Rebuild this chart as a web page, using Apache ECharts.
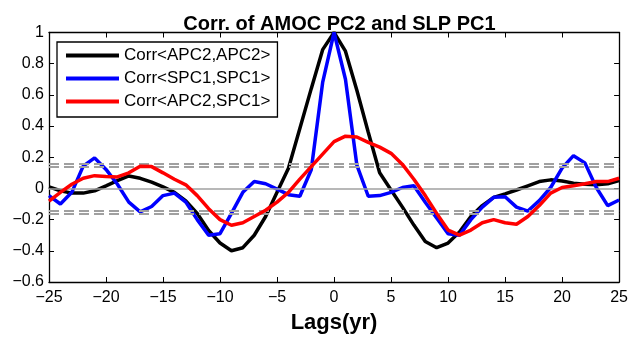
<!DOCTYPE html>
<html>
<head>
<meta charset="utf-8">
<script src="https://cdn.jsdelivr.net/npm/echarts@6/dist/echarts.min.js"></script>
<style>
html,body{margin:0;padding:0;background:#fff;}
#chart{width:631px;height:339px;}
</style>
</head>
<body>
<div id="chart"></div>
<script>
// Lags in years
var lags = [];
for (var k = -25; k <= 25; k++) lags.push(k);

var seriesNames = ['Corr<APC2,APC2>', 'Corr<SPC1,SPC1>', 'Corr<APC2,SPC1>'];

var apc2Auto = [
  0.01, -0.015, -0.03, -0.03, -0.015, 0.017, 0.05, 0.08, 0.065, 0.04,
  0.01, -0.025, -0.08, -0.16, -0.27, -0.35, -0.40, -0.38, -0.30, -0.18,
  -0.025, 0.13, 0.385, 0.64, 0.89, 1.0, 0.88, 0.63, 0.36, 0.10,
  -0.01, -0.12, -0.235, -0.34, -0.38, -0.35, -0.28, -0.18, -0.11, -0.057,
  -0.035, -0.01, 0.017, 0.044, 0.055, 0.048, 0.034, 0.027, 0.023, 0.03,
  0.05
];
var spc1Auto = [
  -0.046, -0.1, -0.025, 0.143, 0.196, 0.122, 0.027, -0.088, -0.15, -0.116,
  -0.046, -0.03, -0.088, -0.2, -0.3, -0.29, -0.16, -0.025, 0.044, 0.03,
  -0.004, -0.04, -0.05, 0.12, 0.68, 1.0, 0.70, 0.15, -0.05, -0.046,
  -0.025, 0.006, 0.017, -0.088, -0.19, -0.29, -0.3, -0.2, -0.12, -0.057,
  -0.053, -0.12, -0.145, -0.078, 0.006, 0.13, 0.21, 0.164, 0.006, -0.11,
  -0.074
];
var crossCorr = [
  -0.082, -0.025, 0.027, 0.065, 0.082, 0.076, 0.074, 0.1, 0.143, 0.14,
  0.1, 0.059, 0.023, -0.046, -0.13, -0.2, -0.236, -0.22, -0.18, -0.14,
  -0.088, -0.025, 0.06, 0.14, 0.22, 0.30, 0.335, 0.33, 0.295, 0.265,
  0.225, 0.154, 0.059, -0.046, -0.16, -0.267, -0.3, -0.267, -0.22, -0.2,
  -0.22, -0.23, -0.18, -0.11, -0.03, 0.006, 0.017, 0.03, 0.044, 0.044,
  0.065
];
// significance levels (dashed) and zero line
var sigLevels = [0.158, 0.14, -0.14, -0.158];
var zeroLevel = [0];

function toPairs(arr) { return arr.map(function (v, i) { return [lags[i], v]; }); }
function fmt(v) {
  var s = (Math.round(v * 10) / 10).toString();
  return s.replace('-', '\u2212');
}
var FONT = 'Liberation Sans, Arial, sans-serif';

var chart = echarts.init(document.getElementById('chart'), null, {renderer: 'canvas'});
var axisLine = {show: true, onZero: false, lineStyle: {color: '#000', width: 1.3}};
var tick = {show: true, inside: true, length: 5, lineStyle: {color: '#000', width: 1}};
var option = {
  animation: false,
  backgroundColor: '#fff',
  title: {
    text: 'Corr. of AMOC PC2 and SLP PC1',
    left: 334.5, textAlign: 'center', top: 9,
    textStyle: {fontFamily: FONT, fontSize: 20, fontWeight: 'bold', color: '#000'}
  },
  legend: {
    orient: 'vertical', left: 57, top: 42,
    data: seriesNames,
    icon: 'rect', itemWidth: 53, itemHeight: 4, itemGap: 6,
    padding: [5, 7, 7, 9],
    backgroundColor: '#fff', borderColor: '#000', borderWidth: 1.3, borderRadius: 0,
    textStyle: {fontFamily: FONT, fontSize: 17, color: '#000', lineHeight: 17}
  },
  grid: {left: 49, right: 11, top: 32.5, bottom: 53},
  xAxis: [{
    type: 'value', min: -25, max: 25, interval: 5, position: 'bottom',
    axisLine: axisLine, axisTick: tick,
    axisLabel: {margin: 8, formatter: fmt, fontFamily: FONT, fontSize: 16, color: '#000'},
    splitLine: {show: false},
    name: 'Lags(yr)', nameLocation: 'middle', nameGap: 30,
    nameTextStyle: {fontFamily: FONT, fontSize: 22, fontWeight: 'bold', color: '#000'}
  }, {
    type: 'value', min: -25, max: 25, interval: 5, position: 'top',
    axisLine: axisLine, axisTick: tick,
    axisLabel: {show: false}, splitLine: {show: false}
  }],
  yAxis: [{
    type: 'value', min: -0.6, max: 1, interval: 0.2, position: 'left',
    axisLine: axisLine, axisTick: tick,
    axisLabel: {margin: 5, formatter: fmt, fontFamily: FONT, fontSize: 16, color: '#000'},
    splitLine: {show: false}
  }, {
    type: 'value', min: -0.6, max: 1, interval: 0.2, position: 'right',
    axisLine: axisLine, axisTick: tick,
    axisLabel: {show: false}, splitLine: {show: false}
  }],
  series: [{
    name: seriesNames[0], type: 'line', data: toPairs(apc2Auto),
    showSymbol: false, lineStyle: {color: '#000', width: 3.5}, itemStyle: {color: '#000'},
    z: 3,
    markLine: {
      silent: true, symbol: 'none', label: {show: false},
      data: sigLevels.map(function (v) {
        return {yAxis: v, lineStyle: {color: '#a0a0a0', width: 1.8, type: [10, 5]}};
      }).concat(zeroLevel.map(function (v) {
        return {yAxis: v, lineStyle: {color: '#a0a0a0', width: 1.5, type: 'solid'}};
      }))
    }
  }, {
    name: seriesNames[1], type: 'line', data: toPairs(spc1Auto),
    showSymbol: false, lineStyle: {color: '#0000ff', width: 3.5}, itemStyle: {color: '#0000ff'},
    z: 4
  }, {
    name: seriesNames[2], type: 'line', data: toPairs(crossCorr),
    showSymbol: false, lineStyle: {color: '#ff0000', width: 3.5}, itemStyle: {color: '#ff0000'},
    z: 5
  }]
};
chart.setOption(option);
</script>
</body>
</html>
